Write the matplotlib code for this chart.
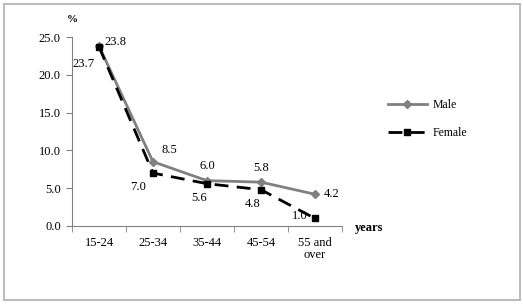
import matplotlib
matplotlib.use('Agg')
import matplotlib.pyplot as plt
from matplotlib.patches import Rectangle
import numpy as np

# data
categories = ['15-24', '25-34', '35-44', '45-54', '55 and\nover']
male = [23.8, 8.5, 6.0, 5.8, 4.2]
female = [23.7, 7.0, 5.6, 4.8, 1.0]

plt.rcParams['font.family'] = ['Liberation Serif', 'DejaVu Serif']

fig = plt.figure(figsize=(5.23, 3.04), dpi=100)
fig.patches.append(Rectangle((4 / 523, 4 / 304), 516 / 523, 296 / 304,
                             transform=fig.transFigure, fill=False,
                             edgecolor='#bdbdbd', linewidth=1.5))

ax = fig.add_axes([72 / 523, 1 - 226 / 304, 270 / 523, 189 / 304])
x = np.arange(len(categories))

ax.plot(x, male, color='#808080', linewidth=2, marker='D', markersize=4, label='Male')
ax.plot(x, female, color='black', linewidth=2, linestyle=(0, (5, 3)), marker='s',
        markersize=4, label='Female')

ax.set_xlim(-0.5, len(categories) - 0.5)
ax.set_ylim(0, 25)
ax.set_yticks(np.arange(0, 25.1, 5))
ax.set_yticklabels([f'{v:.1f}' for v in np.arange(0, 25.1, 5)], fontsize=9)
ax.set_xticks(x)
ax.set_xticklabels(categories, fontsize=9, linespacing=1.0)
ax.set_xticks(np.arange(-0.5, len(categories)), minor=True)
ax.tick_params(axis='x', which='major', length=0, pad=8)
ax.tick_params(axis='x', which='minor', length=4, color='#808080', direction='out')
ax.tick_params(axis='y', length=4, color='#808080', pad=4)

for s in ['top', 'right']:
    ax.spines[s].set_visible(False)
for s in ['left', 'bottom']:
    ax.spines[s].set_color('#808080')

# value labels
male_off = [(4, 3), (6, 4), (0, 6), (0, 6), (6, 0)]
male_ha = ['left', 'left', 'center', 'center', 'left']
male_va = ['center', 'bottom', 'bottom', 'bottom', 'center']
fem_off = [(-3, -8), (-5, -6), (-6, -6), (-6, -6), (-5, 2)]
fem_ha = ['right', 'right', 'center', 'center', 'right']
fem_va = ['top', 'top', 'top', 'top', 'center']
for i in range(len(categories)):
    ax.annotate(f'{male[i]:.1f}', (x[i], male[i]), xytext=male_off[i],
                textcoords='offset points', ha=male_ha[i], va=male_va[i], fontsize=9)
    ax.annotate(f'{female[i]:.1f}', (x[i], female[i]), xytext=fem_off[i],
                textcoords='offset points', ha=fem_ha[i], va=fem_va[i], fontsize=9)

fig.text(72 / 523, 1 - 20 / 304, '%', fontsize=8, fontweight='bold', ha='center', va='center')
fig.text(355 / 523, 1 - 228 / 304, 'years', fontsize=9, fontweight='bold', ha='left', va='center')

ax.legend(loc='center left', bbox_to_anchor=(1.13, 0.565), frameon=False, fontsize=8.5,
          handlelength=3.3, labelspacing=1.35, handletextpad=0.5)

fig.savefig('out.png', dpi=100)
